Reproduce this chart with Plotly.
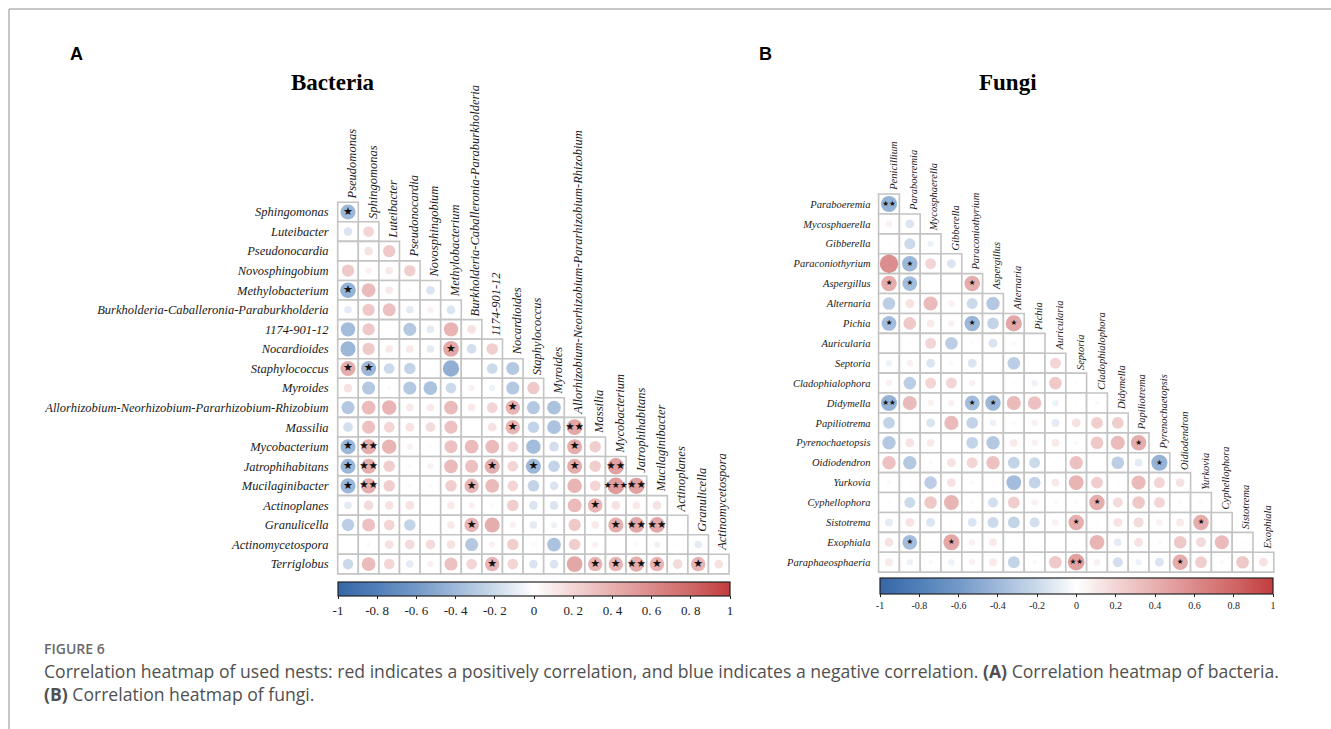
import plotly.graph_objects as go

W, H = 1331, 729

# ---------------- data ----------------
bac_taxa = ["Pseudomonas", "Sphingomonas", "Luteibacter", "Pseudonocardia", "Novosphingobium",
            "Methylobacterium", "Burkholderia-Caballeronia-Paraburkholderia", "1174-901-12",
            "Nocardioides", "Staphylococcus", "Myroides",
            "Allorhizobium-Neorhizobium-Pararhizobium-Rhizobium", "Massilia", "Mycobacterium",
            "Jatrophihabitans", "Mucilaginibacter", "Actinoplanes", "Granulicella",
            "Actinomycetospora", "Terriglobus"]

bac_r = [
    [-0.6],
    [-0.2, 0.3],
    [0.02, 0.2, 0.4],
    [0.4, 0.1, 0.15, 0.35],
    [-0.65, 0.5, 0.15, 0.05, -0.2],
    [-0.15, 0.4, 0.45, -0.15, 0.1, -0.2],
    [-0.55, 0.4, 0.0, -0.45, -0.15, 0.55, 0.2],
    [-0.6, 0.4, 0.15, 0.15, -0.15, 0.65, -0.25, 0.35],
    [0.6, -0.6, -0.3, -0.35, 0.03, -0.7, 0.03, -0.3, -0.45],
    [0.2, -0.45, 0.05, -0.45, -0.5, -0.3, 0.1, -0.1, -0.45, 0.4],
    [-0.45, 0.5, 0.55, 0.15, 0.15, 0.5, 0.15, 0.3, 0.55, -0.45, -0.5],
    [-0.25, 0.45, 0.3, 0.2, 0.25, 0.45, 0.0, 0.2, 0.55, -0.35, -0.5, 0.65],
    [-0.6, 0.6, 0.55, 0.1, 0.05, 0.45, 0.5, 0.5, 0.3, -0.55, -0.25, 0.6, 0.35],
    [-0.6, 0.6, 0.35, 0.05, 0.1, 0.5, 0.45, 0.6, 0.3, -0.6, -0.35, 0.6, 0.35, 0.7],
    [-0.6, 0.6, 0.35, 0.05, 0.05, 0.35, 0.55, 0.5, 0.3, -0.35, -0.2, 0.55, 0.3, 0.75, 0.7],
    [-0.15, 0.25, 0.2, 0.2, 0.0, 0.15, 0.1, -0.05, 0.35, -0.2, -0.2, 0.5, 0.55, 0.2, 0.15, 0.2],
    [-0.4, 0.45, 0.3, -0.35, 0.03, 0.15, 0.55, 0.6, 0.1, -0.15, -0.1, 0.4, 0.15, 0.6, 0.65, 0.65, 0.02],
    [0.03, 0.05, 0.2, 0.25, 0.25, 0.2, -0.45, 0.1, 0.35, 0.05, -0.5, 0.35, 0.1, 0.03, 0.05, -0.1, 0.03, -0.15],
    [-0.3, 0.5, 0.3, -0.15, 0.1, 0.45, 0.3, 0.55, 0.3, -0.2, -0.2, 0.65, 0.55, 0.55, 0.6, 0.55, 0.25, 0.55, 0.2],
]

# (row, column, number of stars)
bac_stars = [(0, 0, 1), (4, 0, 1), (7, 5, 1), (8, 0, 1), (8, 1, 1), (10, 8, 1), (11, 8, 1),
             (11, 11, 2), (12, 0, 1), (12, 1, 2), (12, 11, 1), (13, 0, 1), (13, 1, 2),
             (13, 7, 1), (13, 9, 1), (13, 11, 1), (13, 13, 2), (14, 0, 1), (14, 1, 2),
             (14, 6, 1), (14, 13, 3), (14, 14, 2), (15, 12, 1), (16, 6, 1), (16, 13, 1),
             (16, 14, 2), (16, 15, 2), (18, 7, 1), (18, 12, 1), (18, 13, 1), (18, 14, 2),
             (18, 15, 1), (18, 17, 1)]

fun_taxa = ["Penicillium", "Paraboeremia", "Mycosphaerella", "Gibberella", "Paraconiothyrium",
            "Aspergillus", "Alternaria", "Pichia", "Auricularia", "Septoria", "Cladophialophora",
            "Didymella", "Papiliotrema", "Pyrenochaetopsis", "Oidiodendron", "Yurkovia",
            "Cyphellophora", "Sistotrema", "Exophiala", "Paraphaeosphaeria"]

fun_r = [
    [-0.65],
    [0.1, -0.2],
    [0.03, -0.3, -0.1],
    [0.85, -0.6, 0.3, -0.2],
    [0.6, -0.55, 0.0, 0.0, 0.6],
    [-0.4, 0.2, 0.5, 0.1, -0.3, -0.45],
    [-0.55, 0.4, 0.15, 0.1, -0.6, -0.35, 0.65],
    [0.0, 0.03, 0.3, -0.4, 0.03, -0.2, 0.05, 0.0],
    [-0.1, 0.1, -0.2, 0.05, -0.2, 0.0, -0.4, 0.0, 0.3],
    [0.1, -0.4, 0.3, 0.3, 0.1, 0.0, 0.03, -0.1, 0.4, 0.03],
    [-0.65, 0.5, 0.1, 0.1, -0.55, -0.6, 0.5, 0.45, -0.1, 0.03, -0.05],
    [-0.35, 0.0, -0.2, 0.5, -0.35, -0.1, 0.05, 0.1, -0.15, 0.2, 0.35, 0.35],
    [-0.45, 0.2, 0.15, 0.03, -0.35, -0.45, 0.15, 0.1, 0.15, 0.05, 0.4, 0.5, 0.6],
    [0.45, -0.45, 0.05, 0.2, 0.3, 0.45, -0.35, -0.3, 0.03, 0.45, 0.0, -0.4, -0.15, -0.65],
    [0.05, 0.03, -0.4, 0.2, 0.05, 0.03, -0.55, -0.35, 0.15, 0.55, 0.35, 0.03, 0.5, 0.3, 0.2],
    [0.03, -0.3, 0.4, 0.55, 0.05, -0.25, 0.35, 0.1, 0.05, 0.05, 0.6, 0.25, 0.4, 0.3, 0.05, 0.05],
    [-0.15, 0.2, -0.2, 0.03, -0.2, -0.3, -0.35, -0.25, 0.1, 0.6, 0.03, 0.2, 0.25, 0.1, 0.15, 0.6, 0.03],
    [0.2, -0.55, 0.03, 0.65, 0.1, 0.15, 0.0, 0.0, 0.0, 0.03, 0.55, -0.15, 0.2, 0.05, 0.4, 0.25, 0.5, 0.03],
    [0.15, -0.1, 0.05, -0.1, 0.1, 0.15, -0.35, 0.05, 0.4, 0.7, 0.1, -0.25, -0.1, -0.2, 0.6, 0.35, 0.05, 0.4, 0.2],
]

fun_stars = [(0, 0, 2), (3, 1, 1), (4, 0, 1), (4, 1, 1), (4, 4, 1), (6, 0, 1), (6, 4, 1),
             (6, 6, 1), (10, 0, 2), (10, 4, 1), (10, 5, 1), (12, 12, 1), (13, 13, 1),
             (15, 10, 1), (16, 9, 1), (16, 15, 1), (17, 1, 1), (17, 3, 1), (18, 9, 2),
             (18, 14, 1)]

tick_vals = [-1, -0.8, -0.6, -0.4, -0.2, 0, 0.2, 0.4, 0.6, 0.8, 1]
bac_tick_text = ["-1", "-0. 8", "-0. 6", "-0. 4", "-0. 2", "0", "0. 2", "0. 4", "0. 6", "0. 8", "1"]
fun_tick_text = ["-1", "-0.8", "-0.6", "-0.4", "-0.2", "0", "0.2", "0.4", "0.6", "0.8", "1"]

# ---------------- style ----------------
colorscale = [[0.0, '#3766a6'], [0.1, '#5080b9'], [0.2, '#7399c8'], [0.3, '#9fb9da'],
              [0.4, '#cbdaeb'], [0.5, '#ffffff'], [0.6, '#f3d5d5'], [0.7, '#e8b0b0'],
              [0.8, '#dc8a8a'], [0.9, '#d06767'], [1.0, '#c23c3e']]
SERIF = "Liberation Serif"
GRID = '#c4c4c4'
N = 19
PAD = 0.6

fig = go.Figure()


def add_panel(taxa, rvals, stars, idx, c0, sx, r0, sy, size_k, star_sizes, lab_size, stand):
    xa = 'x' if idx == 1 else 'x%d' % idx
    ya = 'y' if idx == 1 else 'y%d' % idx
    cax = 'coloraxis' if idx == 1 else 'coloraxis%d' % idx
    xs, ys, cs, ss = [], [], [], []
    for i, row in enumerate(rvals):
        for j, v in enumerate(row):
            xs.append(j)
            ys.append(i)
            cs.append(v)
            ss.append(size_k * abs(v) ** 0.5)
            fig.add_shape(type='rect', xref=xa, yref=ya, x0=j - 0.5, x1=j + 0.5,
                          y0=i - 0.5, y1=i + 0.5, line=dict(color=GRID, width=1.6),
                          fillcolor='white', layer='below')
    fig.add_trace(go.Scatter(x=xs, y=ys, mode='markers', xaxis=xa, yaxis=ya,
                             marker=dict(size=ss, color=cs, coloraxis=cax, line=dict(width=0)),
                             hoverinfo='skip', showlegend=False, cliponaxis=False))
    fig.add_trace(go.Scatter(x=[s[1] for s in stars], y=[s[0] for s in stars], mode='text',
                             text=['\u2605' * s[2] for s in stars], xaxis=xa, yaxis=ya,
                             textposition='middle center',
                             textfont=dict(size=[star_sizes[s[2] - 1] for s in stars],
                                           color='#111', family='DejaVu Sans'),
                             hoverinfo='skip', showlegend=False, cliponaxis=False))
    # column labels (rotated, staircase)
    for c in range(N):
        fig.add_annotation(xref=xa, yref=ya, x=c + 0.18, y=c - 0.5, text=taxa[c],
                           textangle=-90, showarrow=False, xanchor='center', yanchor='bottom',
                           yshift=1,
                           font=dict(family=SERIF, size=lab_size, color='#1a1a1a', style='italic'))
    xd = [(c0 - PAD * sx) / W, (c0 + (N - 1 + PAD) * sx) / W]
    ytop = r0 - PAD * sy
    ybot = r0 + (N - 1 + PAD) * sy
    yd = [1 - ybot / H, 1 - ytop / H]
    key = '' if idx == 1 else str(idx)
    fig.layout['xaxis' + key] = dict(domain=xd, range=[-PAD, N - 1 + PAD], showgrid=False,
                                     zeroline=False, showticklabels=False, showline=False,
                                     fixedrange=True, anchor=ya)
    fig.layout['yaxis' + key] = dict(domain=yd, range=[N - 1 + PAD, -PAD], showgrid=False,
                                     zeroline=False, showline=False, ticks='',
                                     tickvals=list(range(N)), ticktext=taxa[1:],
                                     ticklabelstandoff=stand,
                                     tickfont=dict(family=SERIF, size=lab_size, color='#1a1a1a',
                                                   style='italic'),
                                     fixedrange=True, anchor=xa)


add_panel(bac_taxa, bac_r, bac_stars, 1, 348.0, 20.6, 212.0, 19.56, 19.5, [11, 10.5, 9], 12.5, 6)
add_panel(fun_taxa, fun_r, fun_stars, 2, 889.0, 20.8, 204.0, 19.9, 20.0, [7.5, 7.5, 7], 10.5, 5)


def cbar(xc, ytop, length, thick, ticktext, fsize):
    return dict(orientation='h', x=xc / W, xanchor='center', y=1 - ytop / H, yanchor='top',
                len=length / W, lenmode='fraction', thickness=thick, thicknessmode='pixels',
                outlinewidth=1.2, outlinecolor='#222', ticks='outside', ticklen=3,
                tickcolor='#222', tickvals=tick_vals, ticktext=ticktext, xpad=0, ypad=0,
                tickfont=dict(family=SERIF, size=fsize, color='#222'))


fig.update_layout(
    width=W, height=H, margin=dict(l=0, r=0, t=0, b=0),
    paper_bgcolor='white', plot_bgcolor='white',
    coloraxis=dict(colorscale=colorscale, cmin=-1, cmax=1,
                   colorbar=cbar(534, 582, 392, 14, bac_tick_text, 13)),
    coloraxis2=dict(colorscale=colorscale, cmin=-1, cmax=1,
                    colorbar=cbar(1076.5, 578, 393, 16, fun_tick_text, 10)),
)

# frame lines
fig.add_shape(type='line', xref='paper', yref='paper', x0=9 / W, x1=1, y0=1 - 9 / H, y1=1 - 9 / H,
              line=dict(color='#b4b4b4', width=1.5))
fig.add_shape(type='line', xref='paper', yref='paper', x0=9 / W, x1=9 / W, y0=0, y1=1 - 9 / H,
              line=dict(color='#b4b4b4', width=1.5))


def ptext(x, y, text, size, family, color='#000', xanchor='left', weight=None):
    f = dict(size=size, family=family, color=color)
    if weight:
        f['weight'] = weight
    fig.add_annotation(xref='paper', yref='paper', x=x / W, y=1 - y / H, text=text,
                       showarrow=False, xanchor=xanchor, yanchor='middle', font=f)


ptext(76, 54, "<b>A</b>", 18, "Liberation Sans", xanchor='center')
ptext(765, 54, "<b>B</b>", 18, "Liberation Sans", xanchor='center')
ptext(333, 83, "<b>Bacteria</b>", 23, SERIF, xanchor='center')
ptext(1008, 83, "<b>Fungi</b>", 23, SERIF, xanchor='center')
ptext(42, 648, "FIGURE 6", 14, "Open Sans", color='#6a6a6a', weight=600)
ptext(42, 671, "Correlation heatmap of used nests: red indicates a positively correlation, and blue "
               "indicates a negative correlation. <b>(A)</b> Correlation heatmap of bacteria.",
      17.6, "Open Sans", color='#505050')
ptext(42, 694, "<b>(B)</b> Correlation heatmap of fungi.", 17.6, "Open Sans", color='#505050')

fig.write_html("out.html", include_plotlyjs=True, config={'displayModeBar': False},
               post_script="document.body.style.margin='0';document.body.style.overflow='hidden';")
